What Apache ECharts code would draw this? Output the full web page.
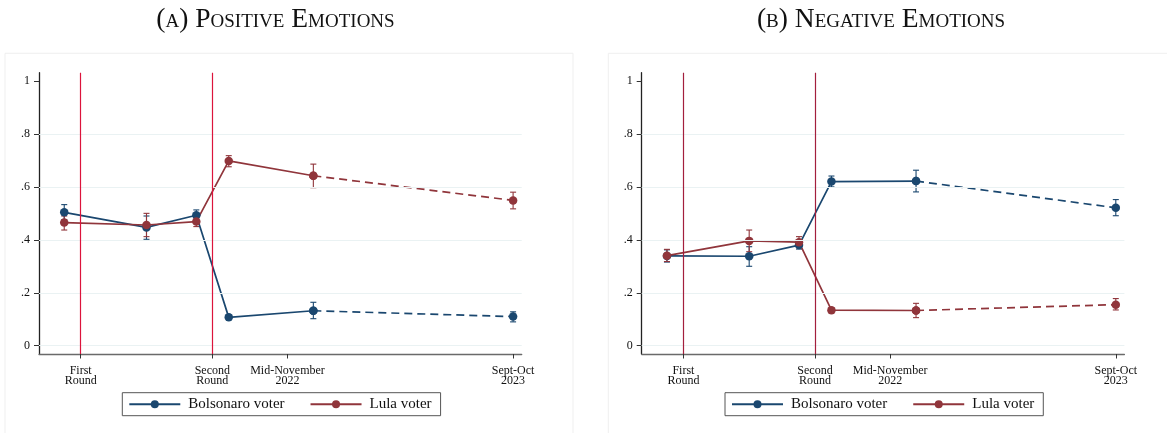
<!DOCTYPE html>
<html><head><meta charset="utf-8">
<script src="https://cdn.jsdelivr.net/npm/echarts@6/dist/echarts.min.js"></script>
<style>html,body{margin:0;padding:0;background:#fff}#c{width:1167px;height:433px}</style>
</head><body><div id="c"></div>
<script>
// ---------- data ----------
const panelTitles = ['(a) Positive Emotions', '(b) Negative Emotions'];
const groupNames = ['Bolsonaro voter', 'Lula voter'];
// x = days since the first round (2023 wave placed on a compressed scale)
const xTickValues = [0, 28, 44, 92];
const xTickLabels = ['First\nRound', 'Second\nRound', 'Mid-November\n2022', 'Sept-Oct\n2023'];
const yTickValues = [0, 0.2, 0.4, 0.6, 0.8, 1];
const yTickLabels = ['0', '.2', '.4', '.6', '.8', '1'];
const gridLineValues = [0, 0.2, 0.4, 0.6, 0.8];
const electionRounds = [0, 28];
const waveX = [-3.5, 14, 24.6, 31.5, 49.5, 92];

// (a) positive emotions
const posBolsonaro   = [0.504, 0.447, 0.493, 0.107, 0.132, 0.110];
const posBolsonaroLo = [0.476, 0.402, 0.472, 0.098, 0.102, 0.090];
const posBolsonaroHi = [0.533, 0.490, 0.513, 0.117, 0.164, 0.128];
const posLula        = [0.465, 0.456, 0.469, 0.698, 0.642, 0.549];
const posLulaLo      = [0.437, 0.412, 0.450, 0.676, 0.597, 0.517];
const posLulaHi      = [0.490, 0.500, 0.488, 0.718, 0.686, 0.580];
// (b) negative emotions
const negBolsonaro   = [0.339, 0.338, 0.380, 0.620, 0.622, 0.521];
const negBolsonaroLo = [0.316, 0.300, 0.365, 0.600, 0.581, 0.491];
const negBolsonaroHi = [0.362, 0.374, 0.396, 0.641, 0.663, 0.552];
const negLula        = [0.340, 0.396, 0.391, 0.134, 0.133, 0.155];
const negLulaLo      = [0.318, 0.355, 0.370, 0.124, 0.106, 0.135];
const negLulaHi      = [0.364, 0.437, 0.412, 0.144, 0.160, 0.178];

// ---------- styles ----------
const NAVY = '#1a476f', MAROON = '#90353b';
const ROUND_COLORS = ['#dc143c', '#a31f3d'];
const SERIF = 'Liberation Serif';
const GRID_LEFT = [39, 641.7], GRID_TOP = 72.7, GRID_W = 482.7, GRID_H = 281.3;
const Y_MIN = -0.0314, Y_MAX = 1.0314, X_MIN = -8.87, X_MAX = 93.83;

const panels = [
  {b: posBolsonaro, bl: posBolsonaroLo, bh: posBolsonaroHi, l: posLula, ll: posLulaLo, lh: posLulaHi},
  {b: negBolsonaro, bl: negBolsonaroLo, bh: negBolsonaroHi, l: negLula, ll: negLulaLo, lh: negLulaHi}
];

function pts(vals, from, to) {
  const out = [];
  for (let i = from; i <= to; i++) out.push([waveX[i], vals[i]]);
  return out;
}
function lineSeries(name, vals, color, gi, dashed) {
  return {
    type: 'line', name, xAxisIndex: gi, yAxisIndex: gi,
    data: dashed ? pts(vals, 4, 5) : pts(vals, 0, 4),
    symbol: 'circle', symbolSize: 8.5, showAllSymbol: true,
    lineStyle: {color, width: 1.7, type: dashed ? [8, 5] : 'solid'},
    itemStyle: {color},
    z: 3, silent: true, animation: false
  };
}
function errorBars(name, lo, hi, color, gi, markLine) {
  const s = {
    type: 'custom', name, xAxisIndex: gi, yAxisIndex: gi,
    data: waveX.map((x, i) => [x, lo[i], hi[i]]),
    encode: {x: 0, y: [1, 2]},
    renderItem: (params, api) => {
      const x = api.value(0);
      const a = api.coord([x, api.value(1)]);
      const b = api.coord([x, api.value(2)]);
      const w = 3;
      const style = {stroke: color, lineWidth: 1.1, fill: null};
      return {type: 'group', children: [
        {type: 'line', shape: {x1: a[0], y1: a[1], x2: b[0], y2: b[1]}, style},
        {type: 'line', shape: {x1: a[0] - w, y1: a[1], x2: a[0] + w, y2: a[1]}, style},
        {type: 'line', shape: {x1: b[0] - w, y1: b[1], x2: b[0] + w, y2: b[1]}, style}
      ]};
    },
    z: 2, silent: true, animation: false
  };
  if (markLine) s.markLine = markLine;
  return s;
}

const grids = [], xAxes = [], yAxes = [], series = [], titles = [], legends = [];
panels.forEach((p, gi) => {
  grids.push({left: GRID_LEFT[gi], top: GRID_TOP, width: GRID_W, height: GRID_H, containLabel: false, outerBoundsMode: 'none'});
  xAxes.push({
    type: 'value', gridIndex: gi, min: X_MIN, max: X_MAX,
    axisLine: {show: true, onZero: false, lineStyle: {color: '#6a6a6a', width: 1.3}},
    axisTick: {show: true, length: 4.5, customValues: xTickValues, lineStyle: {color: '#333'}},
    axisLabel: {customValues: xTickValues, margin: 11, fontFamily: SERIF, fontSize: 12, color: '#111', lineHeight: 10.7,
      formatter: v => xTickLabels[xTickValues.indexOf(v)] || ''},
    splitLine: {show: false}
  });
  yAxes.push({
    type: 'value', gridIndex: gi, min: Y_MIN, max: Y_MAX,
    axisLine: {show: true, onZero: false, lineStyle: {color: '#222', width: 1.3}},
    axisTick: {show: true, length: 5, customValues: yTickValues, lineStyle: {color: '#333'}},
    axisLabel: {customValues: yTickValues, margin: 9, fontFamily: SERIF, fontSize: 12, color: '#111',
      formatter: v => { const i = yTickValues.findIndex(t => Math.abs(t - v) < 1e-9); return i >= 0 ? yTickLabels[i] : ''; }},
    splitLine: {show: false}
  });
  const markLine = {
    silent: true, symbol: ['none', 'none'], label: {show: false}, animation: false,
    data: gridLineValues.map(v => ({yAxis: v, lineStyle: {color: '#eaf2f3', width: 1.2, type: 'solid'}}))
      .concat(electionRounds.map(v => ({xAxis: v, lineStyle: {color: ROUND_COLORS[gi], width: 1.2, type: 'solid'}})))
  };
  series.push(lineSeries(groupNames[0], p.b, NAVY, gi, false));
  series.push(lineSeries(groupNames[1], p.l, MAROON, gi, false));
  series.push(errorBars('ci-b-' + gi, p.bl, p.bh, NAVY, gi, markLine));
  series.push(errorBars('ci-l-' + gi, p.ll, p.lh, MAROON, gi, null));
  series.push(lineSeries(groupNames[0], p.b, NAVY, gi, true));
  series.push(lineSeries(groupNames[1], p.l, MAROON, gi, true));
  titles.push({
    text: panelTitles[gi], left: [275.5, 881][gi], top: 6, textAlign: 'center', padding: 0,
    textStyle: {fontFamily: SERIF, fontSize: 27.5, fontWeight: 'normal', fontStyle: 'small-caps', color: '#111'}
  });
  legends.push({
    data: groupNames, left: [122.3, 725][gi], top: 392.7, orient: 'horizontal',
    itemWidth: 51, itemHeight: 10, itemGap: 25, padding: [4, 9, 4, 6],
    borderColor: '#555', borderWidth: 1, selectedMode: false,
    textStyle: {fontFamily: SERIF, fontSize: 15, color: '#111', padding: [0, 0, 0, 3]}
  });
});

const chart = echarts.init(document.getElementById('c'), null, {renderer: 'canvas'});
chart.setOption({
  animation: false, backgroundColor: '#fff',
  title: titles, legend: legends, grid: grids, xAxis: xAxes, yAxis: yAxes, series,
  graphic: [
    {type: 'rect', shape: {x: 5, y: 53.3, width: 568, height: 400}, style: {fill: null, stroke: '#efefef', lineWidth: 1}, silent: true, z: -10},
    {type: 'rect', shape: {x: 608.3, y: 53.3, width: 568, height: 400}, style: {fill: null, stroke: '#efefef', lineWidth: 1}, silent: true, z: -10}
  ]
});
</script></body></html>
